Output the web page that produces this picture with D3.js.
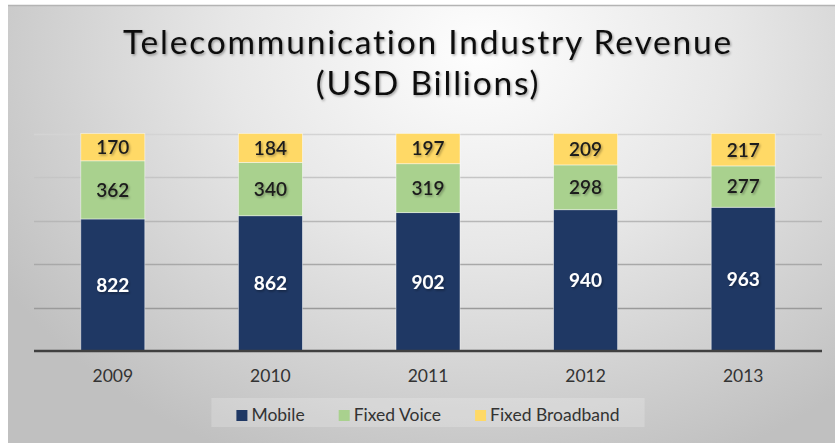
<!DOCTYPE html>
<html>
<head>
<meta charset="utf-8">
<script src="https://cdn.jsdelivr.net/npm/d3@7"></script>
<style>
  html, body { margin: 0; padding: 0; background: #ffffff; }
  svg { display: block; }
  text { font-family: Lato, "Open Sans", sans-serif; font-variant-ligatures: none; }
</style>
</head>
<body>
<svg id="chart" width="835" height="443"></svg>
<script>
// Revenue by segment, USD billions
const years = ["2009", "2010", "2011", "2012", "2013"];
const mobile = [822, 862, 902, 940, 963];
const fixedVoice = [362, 340, 319, 298, 277];
const fixedBroadband = [170, 184, 197, 209, 217];
const seriesNames = ["Mobile", "Fixed Voice", "Fixed Broadband"];
const seriesColors = ["#1f3864", "#a9d18e", "#ffd966"];
const gridTicks = [0, 0.2, 0.4, 0.6, 0.8, 1];
const titleLines = ["Telecommunication Industry Revenue", "(USD Billions)"];

const W = 835, H = 443;
const plot = { left: 34, right: 822, top: 133.5, bottom: 351 };

const svg = d3.select("#chart");
const defs = svg.append("defs");

// soft grey panel background
const bg = defs.append("radialGradient")
  .attr("id", "panelBg")
  .attr("gradientUnits", "userSpaceOnUse")
  .attr("cx", 480).attr("cy", 50).attr("r", 560)
  .attr("gradientTransform", "translate(480,50) scale(1,0.8) translate(-480,-50)");
bg.append("stop").attr("offset", 0).attr("stop-color", "#fefefe");
bg.append("stop").attr("offset", 0.45).attr("stop-color", "#e7e7e7");
bg.append("stop").attr("offset", 1).attr("stop-color", "#c0c0c0");

// gridlines fade lighter toward the top
const gg = defs.append("linearGradient")
  .attr("id", "gridGrad")
  .attr("gradientUnits", "userSpaceOnUse")
  .attr("x1", 0).attr("y1", plot.top).attr("x2", 0).attr("y2", plot.bottom);
gg.append("stop").attr("offset", 0).attr("stop-color", "#d4d4d4");
gg.append("stop").attr("offset", 1).attr("stop-color", "#8c8c8c");

const shadow = defs.append("filter").attr("id", "txtShadow")
  .attr("x", "-10%").attr("y", "-30%").attr("width", "130%").attr("height", "170%");
shadow.append("feDropShadow")
  .attr("dx", 1.2).attr("dy", 1.5).attr("stdDeviation", 1.2)
  .attr("flood-color", "#000").attr("flood-opacity", 0.35);

svg.append("rect").attr("x", 8).attr("y", 5).attr("width", W - 8).attr("height", H - 5)
  .attr("fill", "url(#panelBg)");
svg.append("line").attr("x1", 8).attr("x2", W).attr("y1", 5.5).attr("y2", 5.5)
  .attr("stroke", "#b4b4b4").attr("stroke-width", 1.5);

// title
svg.append("g").attr("filter", "url(#txtShadow)")
  .selectAll("text").data(titleLines).join("text")
  .attr("x", (plot.left + plot.right) / 2)
  .attr("y", (d, i) => 54 + i * 40.5)
  .attr("text-anchor", "middle")
  .attr("font-size", 33.5)
  .attr("letter-spacing", 1.8)
  .attr("fill", "#111111")
  .text(d => d);

// scales
const x = d3.scaleBand().domain(years)
  .range([plot.left, plot.right])
  .paddingInner(0.594).paddingOuter(0.297);
const y = d3.scaleLinear().domain([0, 1]).range([plot.bottom, plot.top]);

// gridlines
svg.append("g").selectAll("line").data(gridTicks.slice(1)).join("line")
  .attr("x1", plot.left).attr("x2", plot.right)
  .attr("y1", d => Math.round(y(d)) + 0.5).attr("y2", d => Math.round(y(d)) + 0.5)
  .attr("stroke", "url(#gridGrad)").attr("stroke-width", 1.5);

// 100% stacked bars
const rows = years.map((yr, i) => ({
  year: yr,
  "Mobile": mobile[i],
  "Fixed Voice": fixedVoice[i],
  "Fixed Broadband": fixedBroadband[i]
}));
const stacked = d3.stack().keys(seriesNames).offset(d3.stackOffsetExpand)(rows);

const layers = svg.append("g").selectAll("g").data(stacked).join("g")
  .attr("fill", (d, i) => seriesColors[i]);
layers.selectAll("rect").data(d => d).join("rect")
  .attr("x", d => x(d.data.year))
  .attr("width", x.bandwidth())
  .attr("y", d => y(d[1]))
  .attr("height", d => y(d[0]) - y(d[1]))
  .attr("stroke", "rgba(255,255,255,0.55)")
  .attr("stroke-width", 0.8);

// value labels
const labels = svg.append("g").attr("filter", "url(#txtShadow)");
stacked.forEach((layer, li) => {
  labels.selectAll(null).data(layer).join("text")
    .attr("x", d => x(d.data.year) + x.bandwidth() / 2)
    .attr("y", d => (y(d[0]) + y(d[1])) / 2)
    .attr("dy", "0.36em")
    .attr("text-anchor", "middle")
    .attr("font-size", 19)
    .attr("font-weight", li === 0 ? 700 : 600)
    .attr("fill", li === 0 ? "#ffffff" : "#1c1c1c")
    .text(d => d.data[layer.key]);
});

// category axis
const axis = svg.append("g").attr("transform", `translate(0,${plot.bottom})`)
  .call(d3.axisBottom(x).tickSize(0).tickPadding(19));
axis.select(".domain").attr("stroke", "#404040").attr("stroke-width", 2.5)
  .attr("d", `M${plot.left},0H${plot.right}`);
axis.selectAll(".tick text")
  .attr("font-family", "Lato, 'Open Sans', sans-serif")
  .attr("font-size", 17.5).attr("fill", "#333333");

// legend
const legendBox = svg.append("rect")
  .attr("y", 398).attr("height", 29)
  .attr("fill", "#ffffff").attr("fill-opacity", 0.2);
const legend = svg.append("g");
const itemGap = 34;
let cursor = 0;
seriesNames.forEach((name, i) => {
  const item = legend.append("g").attr("transform", `translate(${cursor},0)`);
  item.append("rect").attr("x", 0).attr("y", -11).attr("width", 11).attr("height", 11)
    .attr("fill", seriesColors[i]);
  const t = item.append("text").attr("x", 15).attr("y", 0)
    .attr("font-size", 17.5).attr("fill", "#333333").text(name);
  cursor += 15 + t.node().getComputedTextLength() + itemGap;
});
const legendW = cursor - itemGap;
const legendX = (plot.left + plot.right) / 2 - legendW / 2;
legend.attr("transform", `translate(${legendX},421)`);
legendBox.attr("x", legendX - 25).attr("width", legendW + 50);
</script>
</body>
</html>
